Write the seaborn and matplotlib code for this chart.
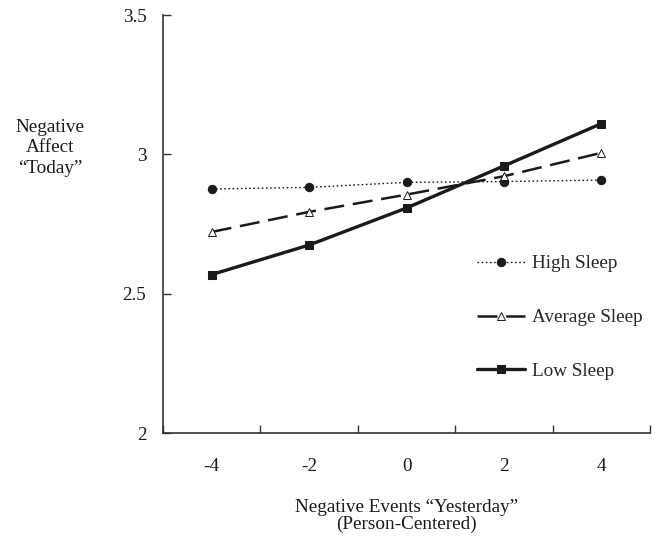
import numpy as np
import pandas as pd
import matplotlib
matplotlib.use("Agg")
import matplotlib.pyplot as plt
import seaborn as sns

# Datos
eventos = [-4, -2, 0, 2, 4]
etiquetas_x = ["-4", "-2", "0", "2", "4"]
high_sleep = [2.876, 2.882, 2.900, 2.903, 2.908]
average_sleep = [2.722, 2.794, 2.856, 2.922, 3.006]
low_sleep = [2.569, 2.675, 2.808, 2.959, 3.111]

sns.set_style("white")
plt.rcParams['font.family'] = ['Liberation Serif', 'DejaVu Serif']

fig = plt.figure(figsize=(6.6, 5.44), dpi=100)
ax = fig.add_axes([0.247, 0.204, 0.738, 0.768])

negro = "#1a1a1a"
gris = "#333333"
tam = 13.8

sns.lineplot(x=eventos, y=high_sleep, ax=ax, color=negro, linewidth=1.0,
             linestyle=(0, (1.2, 1.8)), marker="o", markersize=6,
             markeredgecolor=negro, markerfacecolor=negro, label="High Sleep")
sns.lineplot(x=eventos, y=average_sleep, ax=ax, color=negro, linewidth=1.8,
             linestyle=(0, (8, 3.5)), marker="^", markersize=6,
             markeredgecolor=negro, markerfacecolor="white", markeredgewidth=0.7,
             label="Average Sleep")
sns.lineplot(x=eventos, y=low_sleep, ax=ax, color=negro, linewidth=2.4,
             linestyle="-", marker="s", markersize=5.5,
             markeredgecolor=negro, markerfacecolor=negro, label="Low Sleep")

ax.set_xlim(-5, 5)
ax.set_ylim(2, 3.5)
ax.set_yticks([2, 2.5, 3, 3.5])
ax.set_yticklabels(["2", "2.5", "3", "3.5"])
ax.set_xticks(eventos)
ax.set_xticklabels(etiquetas_x)
ax.set_xticks([-5, -3, -1, 1, 3, 5], minor=True)

# seaborn "white" apaga las marcas, las volvemos a activar
ax.tick_params(which="both", bottom=True, left=True)
ax.tick_params(axis="x", which="major", length=0, pad=18, labelsize=tam, colors=negro)
ax.tick_params(axis="x", which="minor", length=6, width=1, direction="in", color=gris)
ax.tick_params(axis="y", which="major", length=6, width=1, direction="in",
               pad=12, labelsize=tam, labelcolor=negro, color=gris)

for lado in ["top", "right"]:
    ax.spines[lado].set_visible(False)
for lado in ["left", "bottom"]:
    ax.spines[lado].set_color(gris)
    ax.spines[lado].set_linewidth(1.2)

ax.set_xlabel("Negative Events \u201cYesterday\u201d\n(Person-Centered)",
              fontsize=tam, color=negro, labelpad=17, linespacing=1.0)
ax.set_ylabel("")
fig.text(0.076, 0.728, "Negative\nAffect\n\u201cToday\u201d", ha="center", va="center",
         fontsize=tam, color=negro, linespacing=1.25)

ax.legend(loc="upper left", bbox_to_anchor=(0.645, 0.426), frameon=False,
          borderaxespad=0, borderpad=0, fontsize=tam, handlelength=2.5,
          handletextpad=0.36, labelspacing=1.9)

fig.savefig("out.png", dpi=100)
